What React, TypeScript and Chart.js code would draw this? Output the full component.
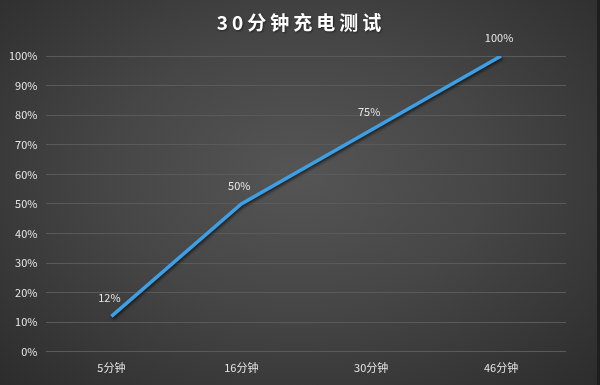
import React, { useEffect, useRef } from "react";
import { Chart, registerables } from "chart.js";

Chart.register(...registerables);

const categories = ["5分钟", "16分钟", "30分钟", "46分钟"];
const chargeValues = [12, 50, 75, 100];
const titleText = "30分钟充电测试";

const FONT = "'Noto Sans CJK SC', 'Microsoft YaHei', sans-serif";

const shadowPlugin = {
  id: "lineShadow",
  beforeDatasetDraw(chart: any) {
    const ctx = chart.ctx;
    ctx.save();
    ctx.shadowColor = "rgba(0,0,0,0.6)";
    ctx.shadowBlur = 3;
    ctx.shadowOffsetX = 1;
    ctx.shadowOffsetY = 2;
  },
  afterDatasetDraw(chart: any) {
    chart.ctx.restore();
  },
};

const labelPlugin = {
  id: "pointLabels",
  afterDatasetsDraw(chart: any) {
    const ctx = chart.ctx;
    const meta = chart.getDatasetMeta(0);
    const data = chart.data.datasets[0].data as number[];
    ctx.save();
    ctx.font = `11px ${FONT}`;
    ctx.fillStyle = "#e6e6e6";
    ctx.textAlign = "center";
    ctx.textBaseline = "middle";
    meta.data.forEach((pt: any, i: number) => {
      ctx.fillText(`${data[i]}%`, pt.x - 2, pt.y - 18);
    });
    ctx.restore();
  },
};

const titlePlugin = {
  id: "spacedTitle",
  afterDraw(chart: any) {
    const ctx = chart.ctx;
    ctx.save();
    ctx.font = `bold 19px ${FONT}`;
    (ctx as any).letterSpacing = "4px";
    ctx.fillStyle = "#ffffff";
    ctx.textAlign = "center";
    ctx.textBaseline = "middle";
    ctx.shadowColor = "rgba(0,0,0,0.5)";
    ctx.shadowBlur = 2;
    ctx.shadowOffsetX = 1;
    ctx.shadowOffsetY = 1;
    ctx.fillText(titleText, 301, 23);
    ctx.restore();
  },
};

export default function App() {
  const ref = useRef<HTMLCanvasElement>(null);
  useEffect(() => {
    document.body.style.margin = "0";
    const chart = new Chart(ref.current!, {
      type: "line",
      data: {
        labels: categories,
        datasets: [
          {
            data: chargeValues,
            borderColor: "#3d9fe6",
            borderWidth: 3.5,
            pointRadius: 0,
            tension: 0,
            fill: false,
          },
        ],
      },
      options: {
        responsive: false,
        animation: false,
        layout: { padding: { left: 0, right: 31, top: 56, bottom: 10 } },
        plugins: {
          legend: { display: false },
          tooltip: { enabled: false },
          title: { display: false },
        },
        scales: {
          x: {
            offset: true,
            grid: { display: false },
            border: { display: false },
            ticks: { color: "#e6e6e6", font: { family: FONT, size: 11 }, padding: 1 },
          },
          y: {
            min: 0,
            max: 100,
            ticks: {
              stepSize: 10,
              color: "#e6e6e6",
              font: { family: FONT, size: 11 },
              padding: 9,
              callback: (v: any) => `${v}%`,
            },
            grid: { color: "#5a5a5a", lineWidth: 1, drawTicks: false },
            border: { display: false },
          },
        },
      },
      plugins: [shadowPlugin, labelPlugin, titlePlugin],
    });
    return () => chart.destroy();
  }, []);
  return (
    <div
      style={{
        position: "fixed",
        left: 0,
        top: 0,
        width: 600,
        height: 385,
        background:
          "radial-gradient(ellipse at 50% 45%, #555555 0%, #464646 45%, #2c2c2c 100%)",
        borderRight: "3px solid #1e1e1e",
        boxSizing: "border-box",
      }}
    >
      <canvas ref={ref} width={597} height={385} />
    </div>
  );
}
